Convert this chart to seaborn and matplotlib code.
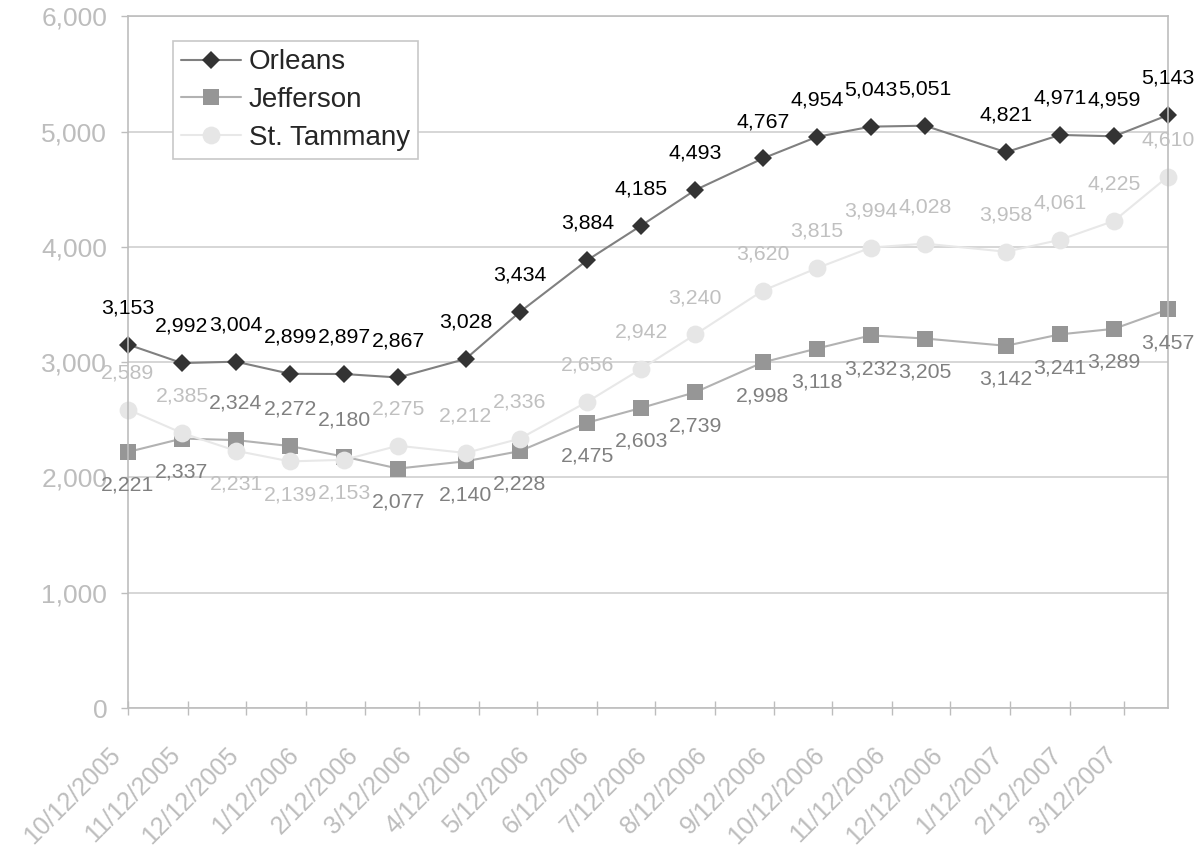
import matplotlib
matplotlib.use("Agg")
import matplotlib.pyplot as plt
import matplotlib.dates as mdates
import matplotlib.transforms as mtransforms
from matplotlib.ticker import FuncFormatter, MultipleLocator
import pandas as pd
import seaborn as sns

#%% data
dates = ["2005-10-12", "2005-11-09", "2005-12-07", "2006-01-04", "2006-02-01",
         "2006-03-01", "2006-04-05", "2006-05-03", "2006-06-07", "2006-07-05",
         "2006-08-02", "2006-09-06", "2006-10-04", "2006-11-01", "2006-11-29",
         "2007-01-10", "2007-02-07", "2007-03-07", "2007-04-04"]
orleans = [3153, 2992, 3004, 2899, 2897, 2867, 3028, 3434, 3884, 4185,
           4493, 4767, 4954, 5043, 5051, 4821, 4971, 4959, 5143]
jefferson = [2221, 2337, 2324, 2272, 2180, 2077, 2140, 2228, 2475, 2603,
             2739, 2998, 3118, 3232, 3205, 3142, 3241, 3289, 3457]
st_tammany = [2589, 2385, 2231, 2139, 2153, 2275, 2212, 2336, 2656, 2942,
              3240, 3620, 3815, 3994, 4028, 3958, 4061, 4225, 4610]

dates = pd.to_datetime(dates)

sns.set_style("white")
plt.rcParams['font.family'] = ['Liberation Sans', 'DejaVu Sans']

fig = plt.figure(figsize=(12, 8.57), dpi=100)
ax = fig.add_axes([128 / 1200, 1 - 708 / 857, 1040 / 1200, 691.7 / 857])

series = [
    ("Orleans", orleans, "#808080", "D", 9.5, "#333333", "#000000"),
    ("Jefferson", jefferson, "#b2b2b2", "s", 11.3, "#969696", "#808080"),
    ("St. Tammany", st_tammany, "#e8e8e8", "o", 12.8, "#e6e6e6", "#c0c0c0"),
]

for name, vals, lc, mk, ms, mc, tc in series:
    sns.lineplot(x=dates, y=vals, ax=ax, color=lc, linewidth=1.5, marker=mk,
                 markersize=ms, markerfacecolor=mc, markeredgecolor=mc,
                 markeredgewidth=0, label=name, clip_on=False)

# data labels: Orleans above, the two lower series on either side of each other
lab_size = 15.3
for i, d in enumerate(dates):
    ax.annotate(f"{orleans[i]:,}", (d, orleans[i]), xytext=(0, 26.5),
                textcoords="offset points", ha="center", va="center",
                fontsize=lab_size, color="#000000")
    j_up = jefferson[i] > st_tammany[i]
    ax.annotate(f"{jefferson[i]:,}", (d, jefferson[i]),
                xytext=(0, 26.5 if j_up else -24), textcoords="offset points",
                ha="center", va="center", fontsize=lab_size, color="#808080")
    ax.annotate(f"{st_tammany[i]:,}", (d, st_tammany[i]),
                xytext=(0, -24 if j_up else 26.5), textcoords="offset points",
                ha="center", va="center", fontsize=lab_size, color="#c0c0c0")

ax.set_xlim(dates[0], dates[-1])
ax.set_ylim(0, 6000)
ax.yaxis.set_major_locator(MultipleLocator(1000))
ax.yaxis.set_major_formatter(FuncFormatter(lambda v, p: f"{int(v):,}"))
ax.xaxis.set_major_locator(mdates.MonthLocator(bymonthday=12))
ax.xaxis.set_major_formatter(
    FuncFormatter(lambda v, p: (lambda t: f"{t.month}/{t.day}/{t.year}")(mdates.num2date(v))))
ax.set_xlabel("")
ax.set_ylabel("")

ax.yaxis.grid(True, color="#cfcfcf", linewidth=1.2)
ax.set_axisbelow(True)
for s in ax.spines.values():
    s.set_color("#bdbdbd")
    s.set_linewidth(1.2)

ax.tick_params(axis="y", direction="out", length=5, width=1, color="#bdbdbd",
               labelsize=19, labelcolor="#bdbdbd", pad=10, left=True)
ax.tick_params(axis="x", direction="inout", length=10, width=1, color="#bdbdbd",
               labelsize=18, labelcolor="#bdbdbd", pad=26, bottom=True)

shift = mtransforms.ScaledTranslation(-11 / 100, 0, fig.dpi_scale_trans)
for lab in ax.get_xticklabels():
    lab.set_rotation(45)
    lab.set_ha("right")
    lab.set_va("center")
    lab.set_rotation_mode("anchor")
    lab.set_transform(lab.get_transform() + shift)

leg = ax.legend(loc="upper left", bbox_to_anchor=(45 / 1040, 1 - 24.7 / 691.7),
                borderaxespad=0, fontsize=20, frameon=True, fancybox=False,
                framealpha=1, edgecolor="#c8c8c8", handlelength=2.13,
                handletextpad=0.3, labelspacing=0.42, borderpad=0.3)
leg.get_frame().set_linewidth(1.2)

plt.savefig("out.png", dpi=100)
